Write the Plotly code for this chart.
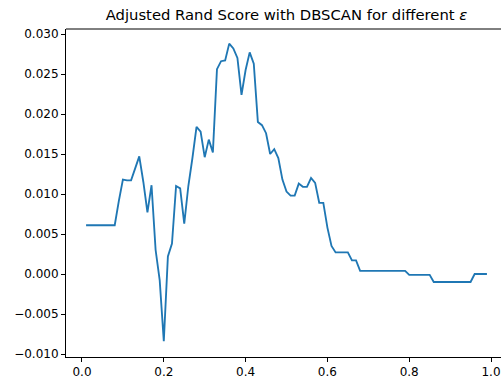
import plotly.graph_objects as go

eps = [round(0.01 * i, 2) for i in range(1, 100)]

ari = [
    0.0061, 0.0061, 0.0061, 0.0061, 0.0061, 0.0061, 0.0061, 0.0061,  # 0.01-0.08
    0.0091, 0.0118, 0.0117, 0.0117, 0.0132, 0.0147, 0.0115, 0.0077,  # 0.09-0.16
    0.0111, 0.0030, -0.0008, -0.0084, 0.0022, 0.0038, 0.0110, 0.0107,  # 0.17-0.24
    0.0063, 0.0110, 0.0145, 0.0184, 0.0178, 0.0146, 0.0168, 0.0152,  # 0.25-0.32
    0.0256, 0.0266, 0.0267, 0.0288, 0.0282, 0.0270, 0.0224, 0.0255,  # 0.33-0.40
    0.0277, 0.0263, 0.0190, 0.0186, 0.0176, 0.0150, 0.0156, 0.0145,  # 0.41-0.48
    0.0118, 0.0103, 0.0098, 0.0098, 0.0113, 0.0109, 0.0109, 0.0120,  # 0.49-0.56
    0.0114, 0.0089, 0.0089, 0.0058, 0.0035, 0.0027, 0.0027, 0.0027,  # 0.57-0.64
    0.0027, 0.0017, 0.0017, 0.0004, 0.0004, 0.0004, 0.0004, 0.0004,  # 0.65-0.72
    0.0004, 0.0004, 0.0004, 0.0004, 0.0004, 0.0004, 0.0004, -0.0001,  # 0.73-0.80
    -0.0001, -0.0001, -0.0001, -0.0001, -0.0001, -0.0010, -0.0010, -0.0010,  # 0.81-0.88
    -0.0010, -0.0010, -0.0010, -0.0010, -0.0010, -0.0010, -0.0010, 0.0000,  # 0.89-0.96
    0.0000, 0.0000, 0.0000,  # 0.97-0.99
]

x_ticks = [0.0, 0.2, 0.4, 0.6, 0.8, 1.0]
y_ticks = [-0.010, -0.005, 0.000, 0.005, 0.010, 0.015, 0.020, 0.025, 0.030]

title_text = "Adjusted Rand Score with DBSCAN for different <i>ε</i>"

fig = go.Figure()
fig.add_trace(go.Scatter(
    x=eps, y=ari, mode="lines",
    line=dict(color="#1f77b4", width=1.85),
    hoverinfo="skip",
))

font = dict(family="DejaVu Sans", color="black", size=12)

fig.update_layout(
    width=501, height=380,
    margin=dict(l=66, r=0, t=29, b=23, pad=0),
    paper_bgcolor="white", plot_bgcolor="white",
    showlegend=False,
    font=font,
    title=dict(
        text=title_text,
        x=286.5 / 501, xref="container", xanchor="center",
        y=1 - 15 / 380, yref="container", yanchor="middle",
        font=dict(family="DejaVu Sans", size=14.8, color="black"),
    ),
    xaxis=dict(
        range=[-0.0391, 1.0244],
        tickvals=x_ticks, tickformat=".1f",
        showgrid=False, zeroline=False,
        showline=True, linecolor="black", linewidth=1,
        ticks="outside", ticklen=4, tickwidth=1, tickcolor="black",
        tickfont=font,
    ),
    yaxis=dict(
        range=[-0.010375, 0.030625],
        tickvals=y_ticks, tickformat=".3f",
        showgrid=False, zeroline=False,
        showline=True, linecolor="black", linewidth=1,
        ticks="outside", ticklen=4, tickwidth=1, tickcolor="black",
        tickfont=font,
    ),
    shapes=[dict(
        type="line", xref="paper", yref="paper",
        x0=0, x1=1, y0=1, y1=1,
        line=dict(color="black", width=1),
    )],
)

fig.write_html("out.html", config={"displayModeBar": False})
